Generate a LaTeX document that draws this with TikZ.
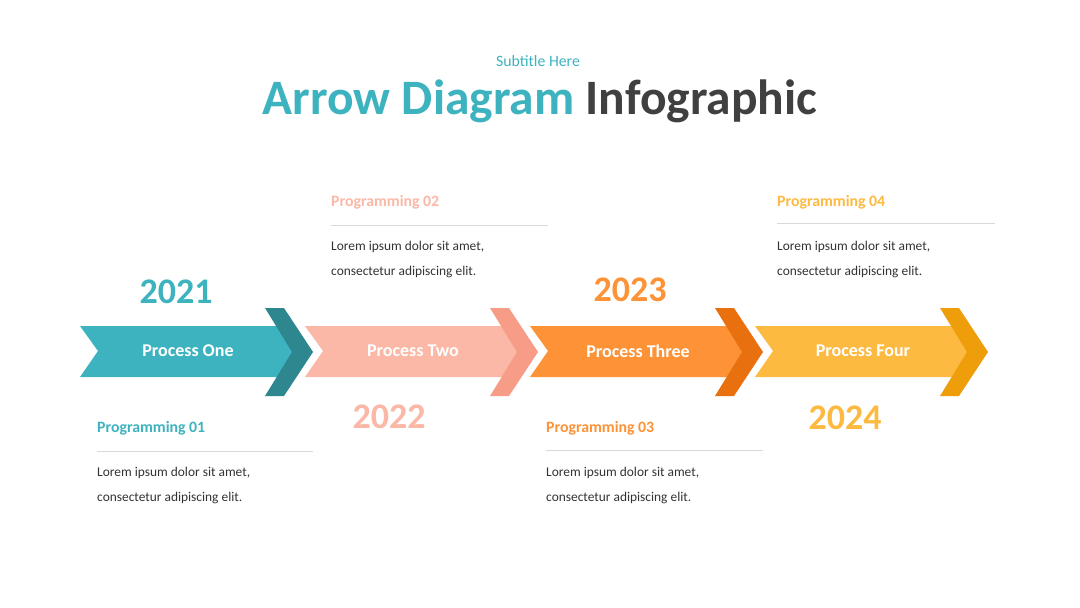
\documentclass[tikz,border=0pt]{standalone}
\usepackage{fontspec}
\setmainfont{Carlito}
\usepackage{xcolor}
\usetikzlibrary{positioning}
\definecolor{TealBody}{HTML}{3DB3BF}
\definecolor{TealHead}{HTML}{2E878F}
\definecolor{PinkBody}{HTML}{FBB8A6}
\definecolor{PinkHead}{HTML}{F79C86}
\definecolor{OrangeBody}{HTML}{FD9236}
\definecolor{OrangeHead}{HTML}{E8700F}
\definecolor{YellowBody}{HTML}{FDBA40}
\definecolor{YellowHead}{HTML}{EE9D0B}
\definecolor{InkGray}{HTML}{404040}
\definecolor{RuleGray}{HTML}{D9D9D9}

\begin{document}
\begin{tikzpicture}[
    x=1pt, y=-1pt,
    % ── Node styles ──
    subtitle/.style = {font=\fontsize{15.8}{18}\selectfont, text=TealBody},
    title/.style    = {font=\fontsize{49.5}{56}\selectfont\bfseries, text=InkGray},
    proc/.style     = {font=\fontsize{18}{20}\selectfont\bfseries, text=white},
    year/.style     = {font=\fontsize{36}{40}\selectfont\bfseries},
    prog/.style     = {font=\fontsize{15.8}{18}\selectfont\bfseries,
                       anchor=west, inner sep=0pt},
    lorem/.style    = {font=\fontsize{13.4}{25}\selectfont, text=black!80,
                       anchor=west, align=left, inner sep=0pt},
    rule/.style     = {draw=RuleGray, line width=1pt},
]
\useasboundingbox[fill=white] (0,0) rectangle (1080,608);

% =====================================================================
%  HEADER
% =====================================================================
\node[title] (title) at (540,101)
    {\textcolor{TealBody}{Arrow Diagram} Infographic};
\node[subtitle] (sub) at (538,61) {Subtitle Here};

% =====================================================================
%  ARROW 1: Process One
% =====================================================================
\begin{scope}[shift={(80,0)}]
  \fill[TealBody] (0,326) -- (200,326) -- (222,351) -- (200,377)
                  -- (0,377) -- (18,351) -- cycle;
  \fill[TealHead] (185,308) -- (204,308) -- (233,352) -- (204,396)
                  -- (185,396) -- (212,352) -- cycle;
  \node[proc] (a1) at (108,351) {Process One};
\end{scope}

% =====================================================================
%  ARROW 2: Process Two
% =====================================================================
\begin{scope}[shift={(305,0)}]
  \fill[PinkBody] (0,326) -- (200,326) -- (222,351) -- (200,377)
                  -- (0,377) -- (18,351) -- cycle;
  \fill[PinkHead] (185,308) -- (204,308) -- (233,352) -- (204,396)
                  -- (185,396) -- (212,352) -- cycle;
  \node[proc] (a2) at (108,351) {Process Two};
\end{scope}

% =====================================================================
%  ARROW 3: Process Three
% =====================================================================
\begin{scope}[shift={(530,0)}]
  \fill[OrangeBody] (0,326) -- (200,326) -- (222,351) -- (200,377)
                    -- (0,377) -- (18,351) -- cycle;
  \fill[OrangeHead] (185,308) -- (204,308) -- (233,352) -- (204,396)
                    -- (185,396) -- (212,352) -- cycle;
  \node[proc] (a3) at (108,351) {Process Three};
\end{scope}

% =====================================================================
%  ARROW 4: Process Four
% =====================================================================
\begin{scope}[shift={(755,0)}]
  \fill[YellowBody] (0,326) -- (200,326) -- (222,351) -- (200,377)
                    -- (0,377) -- (18,351) -- cycle;
  \fill[YellowHead] (185,308) -- (204,308) -- (233,352) -- (204,396)
                    -- (185,396) -- (212,352) -- cycle;
  \node[proc] (a4) at (108,351) {Process Four};
\end{scope}

% =====================================================================
%  YEARS
% =====================================================================
\node[year, text=TealBody]   (y1) at (176,292) {2021};
\node[year, text=PinkBody]   (y2) at (389,417) {2022};
\node[year, text=OrangeBody] (y3) at (630,290) {2023};
\node[year, text=YellowBody] (y4) at (845,418) {2024};

% =====================================================================
%  TEXT BLOCKS
% =====================================================================
% ── Programming 01 (below)
\node[prog, text=TealBody] (p1) at (97,428) {Programming 01};
\draw[rule] ([yshift=-23pt]p1.west) -- ++(216,0);
\node[lorem] (t1) at (97,485)
    {Lorem ipsum dolor sit amet,\\consectetur adipiscing elit.};

% ── Programming 02 (above)
\node[prog, text=PinkBody] (p2) at (331,202) {Programming 02};
\draw[rule] ([yshift=-23pt]p2.west) -- ++(217,0);
\node[lorem] (t2) at (331,259)
    {Lorem ipsum dolor sit amet,\\consectetur adipiscing elit.};

% ── Programming 03 (below)
\node[prog, text=OrangeBody] (p3) at (546,428) {Programming 03};
\draw[rule] ([yshift=-22pt]p3.west) -- ++(217,0);
\node[lorem] (t3) at (546,485)
    {Lorem ipsum dolor sit amet,\\consectetur adipiscing elit.};

% ── Programming 04 (above)
\node[prog, text=YellowBody] (p4) at (777,202) {Programming 04};
\draw[rule] ([yshift=-21pt]p4.west) -- ++(218,0);
\node[lorem] (t4) at (777,259)
    {Lorem ipsum dolor sit amet,\\consectetur adipiscing elit.};

\end{tikzpicture}
\end{document}
